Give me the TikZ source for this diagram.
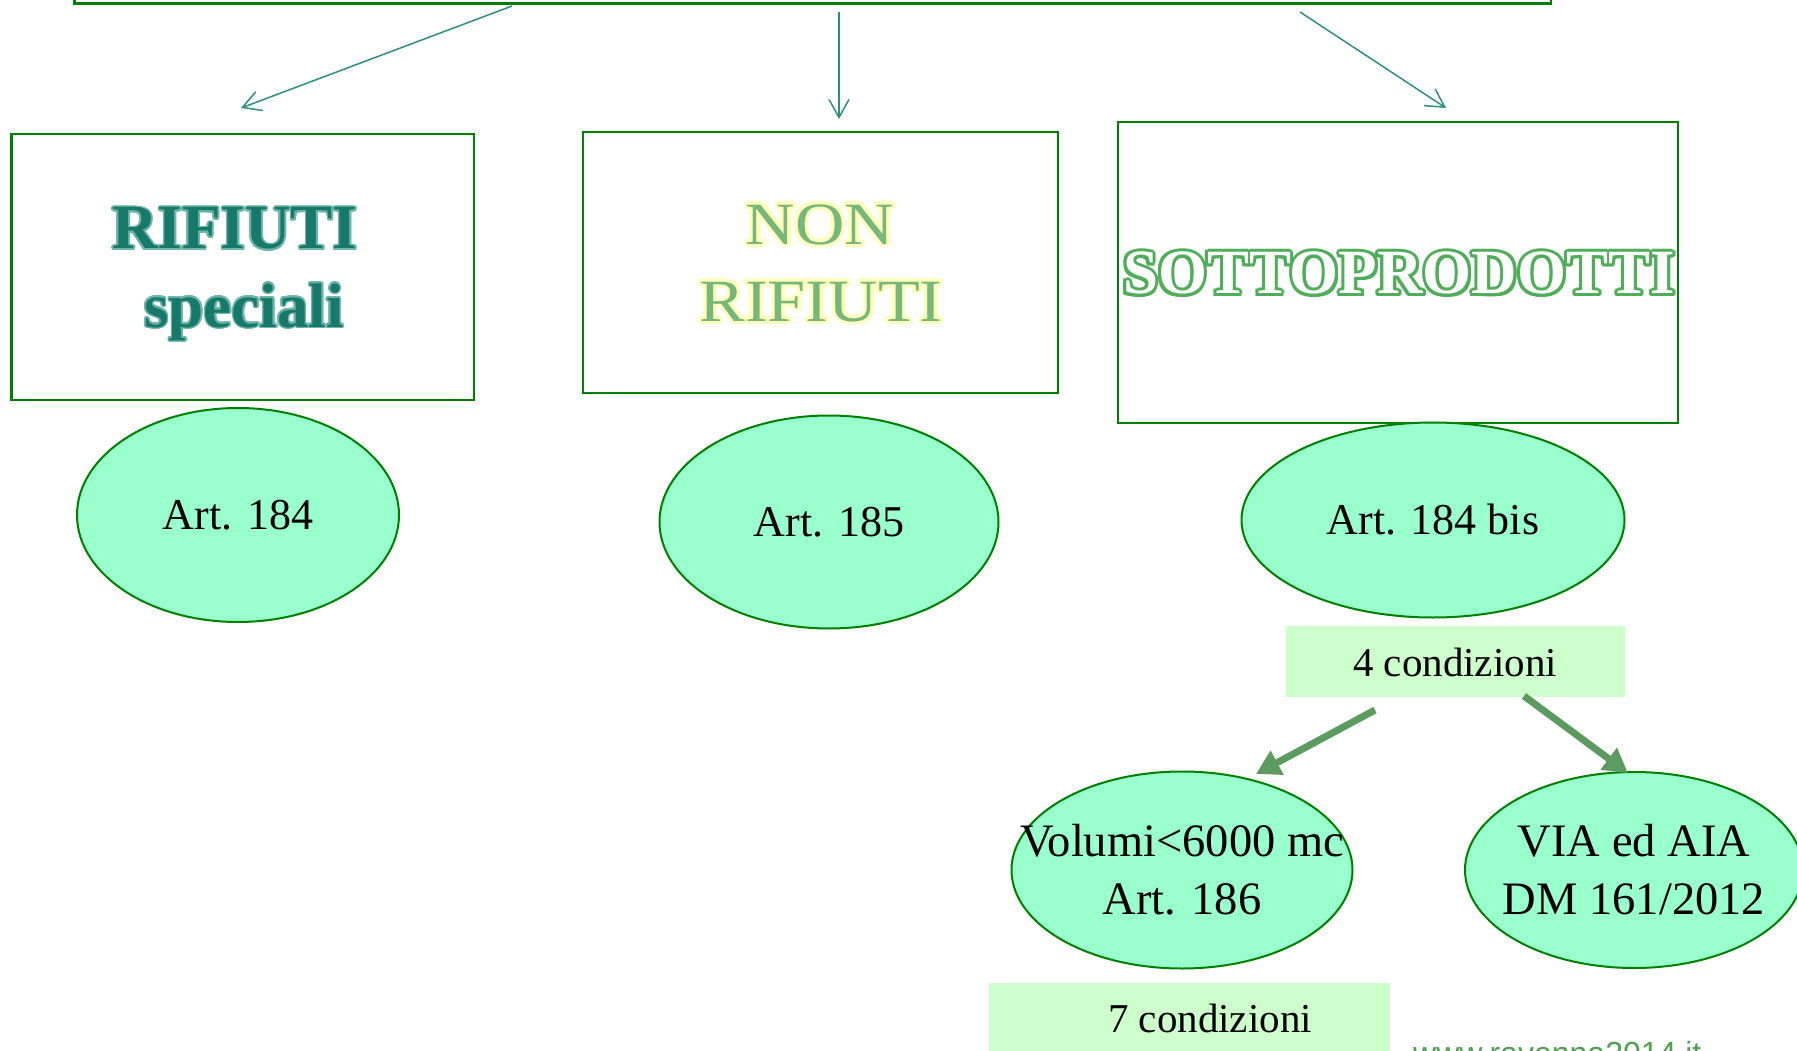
\documentclass[tikz,border=0pt]{standalone}
\usepackage{fontspec}
\setmainfont{Liberation Serif}
\newfontfamily\wmfont{Liberation Sans}
\usepackage[copies]{contour}
\contournumber{16}
\usetikzlibrary{shapes.geometric,arrows.meta}
\definecolor{boxgreen}{HTML}{008000}
\definecolor{ellfill}{HTML}{99FFCC}
\definecolor{labfill}{HTML}{CCFFCC}
\definecolor{thinarrow}{HTML}{2E8F80}
\definecolor{thickarrow}{HTML}{5B9B60}
\definecolor{tealdark}{HTML}{17796A}
\definecolor{teallight}{HTML}{6DB5A8}
\definecolor{nongreen}{HTML}{77B77A}
\definecolor{nonglow}{HTML}{FFFFBB}
\definecolor{sotgreen}{HTML}{50AE5A}
\definecolor{wmgreen}{HTML}{4FA050}
\begin{document}
\begin{tikzpicture}[x=1pt,y=-1pt,
  catbox/.style={draw=boxgreen,line width=2.5pt,inner sep=0pt,outer sep=0pt,anchor=north west},
  artell/.style={ellipse,draw=boxgreen,line width=2pt,fill=ellfill,inner sep=0pt},
  labrect/.style={fill=labfill,inner sep=0pt,anchor=north west},
  elltext/.style={font=\fontsize{44}{58}\selectfont,align=center,inner sep=0pt},
  elltextb/.style={font=\fontsize{46.5}{58}\selectfont,align=center,inner sep=0pt},
  labtext/.style={font=\fontsize{41}{50}\selectfont,inner sep=0pt,anchor=base},
  thinarr/.style={draw=thinarrow,line width=1.5pt,-{Straight Barb[length=18pt,width=20pt]}},
  thickarr/.style={draw=thickarrow,line width=7pt,-{Triangle[length=24pt,width=26pt]}},
  headtext/.style={inner sep=0pt,anchor=base}]
\useasboundingbox (0,0) rectangle (1797,1051);
% top box
\node[catbox,minimum width=1476.5pt,minimum height=23.5pt] (top) at (74.5,-20) {};
% category boxes
\node[catbox,minimum width=462.5pt,minimum height=266pt] (b1) at (11.5,134) {};
\node[catbox,minimum width=475pt,minimum height=261pt] (b2) at (583,132) {};
\node[catbox,minimum width=560pt,minimum height=301pt] (b3) at (1118,122) {};
% headings
\contourlength{1.6pt}
\node[headtext,font=\fontsize{63}{78}\selectfont\bfseries] (h1a) at (235,249) {\contour{teallight}{\color{tealdark}RIFIUTI}};
\node[headtext,font=\fontsize{63}{78}\selectfont\bfseries] (h1b) at (244,327) {\contour{teallight}{\color{tealdark}speciali}};
\node[headtext,font=\fontsize{60}{77}\selectfont] (h2a) at (820,244) {\scalebox{1.14}[1]{\contourlength{3pt}\contour{nonglow}{\color{nongreen}NON}}};
\node[headtext,font=\fontsize{60}{77}\selectfont] (h2b) at (821,321) {\scalebox{1.14}[1]{\contourlength{3pt}\contour{nonglow}{\color{nongreen}RIFIUTI}}};
\node[headtext,font=\fontsize{63}{78}\selectfont\bfseries] (h3) at (1399,294) {\contourlength{3pt}\contour{sotgreen}{\color{white}SOTTOPRODOTTI}};
% ellipses
\node[artell,minimum width=322pt,minimum height=214pt] (e1) at (238,515) {};
\node[artell,minimum width=339pt,minimum height=213pt] (e2) at (829,522) {};
\node[artell,minimum width=383pt,minimum height=195pt] (e3) at (1433,520) {};
\node[artell,minimum width=341pt,minimum height=197pt] (e4) at (1182,870) {};
\node[artell,minimum width=338pt,minimum height=196pt] (e5) at (1634,870) {};
\node[elltext] (t1) at (e1) {Art. 184};
\node[elltext] (t2) at (e2) {Art. 185};
\node[elltext] (t3) at (e3) {Art. 184 bis};
\node[elltextb] (t4) at (e4) {Volumi<6000 mc\\Art. 186};
\node[elltextb] (t5) at (e5) {VIA ed AIA\\DM 161/2012};
% condition labels
\node[labrect,minimum width=339pt,minimum height=71pt] (r4) at (1286,626) {};
\node[labrect,minimum width=401pt,minimum height=72pt] (r7) at (989,983) {};
\node[labtext] (l4) at (1455,676) {4 condizioni};
\node[labtext] (l7) at (1210,1032) {7 condizioni};
% watermark
\node[inner sep=0pt,anchor=base west,font=\wmfont\fontsize{32}{38}\selectfont,text=wmgreen] (wm) at (1413,1064) {www.ravenna2014.it};
% thin arrows
\coordinate (s1) at (512,6);
\coordinate (d1) at (241,108);
\coordinate (s2) at (839,12);
\coordinate (d2) at (839,119);
\coordinate (s3) at (1300,12);
\coordinate (d3) at (1446,108);
\draw[thinarr] (s1) -- (d1);
\draw[thinarr] (s2) -- (d2);
\draw[thinarr] (s3) -- (d3);
% thick arrows
\coordinate (s4) at (1375,710);
\coordinate (d4) at (1256,774);
\coordinate (s5) at (1524,696);
\coordinate (d5) at (1628,773);
\draw[thickarr] (s4) -- (d4);
\draw[thickarr] (s5) -- (d5);
\end{tikzpicture}
\end{document}
